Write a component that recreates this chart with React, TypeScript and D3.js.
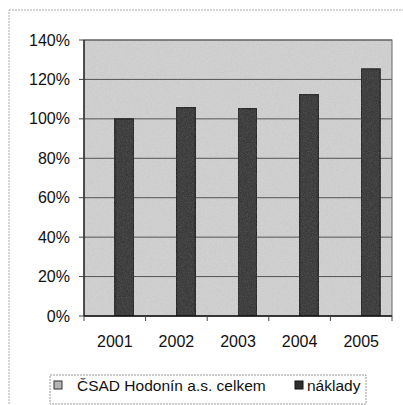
import React from "react";
import * as d3 from "d3";

const categories = ["2001", "2002", "2003", "2004", "2005"];
const seriesNames = ["ČSAD Hodonín a.s. celkem", "náklady"];
const celkem = [0, 0, 0, 0, 0];
const naklady = [100, 105.7, 105.2, 112.4, 125.3];
const yTicks = [0, 20, 40, 60, 80, 100, 120, 140];

const W = 403;
const H = 405;
const plot = { left: 84, right: 392, top: 40, bottom: 316 };
const font = "'Liberation Sans', Arial, sans-serif";

export default function App() {
  const x = d3
    .scaleBand<string>()
    .domain(categories)
    .range([plot.left, plot.right])
    .paddingInner(0)
    .paddingOuter(0);
  const inner = d3
    .scaleBand<string>()
    .domain(seriesNames)
    .range([0, x.bandwidth()])
    .paddingInner(0)
    .paddingOuter(0.63);
  const y = d3.scaleLinear().domain([0, 140]).range([plot.bottom, plot.top]);

  return (
    <svg
      width={W}
      height={H}
      style={{ position: "absolute", left: 0, top: 0, background: "#fff" }}
    >
      <defs>
        <filter id="noise" x="0" y="0" width="100%" height="100%">
          <feTurbulence type="fractalNoise" baseFrequency="1.2" numOctaves="1" seed="3" result="n" />
          <feColorMatrix type="saturate" values="0" in="n" result="g" />
          <feComponentTransfer in="g" result="t">
            <feFuncA type="linear" slope="0.3" />
          </feComponentTransfer>
          <feComposite in="t" in2="SourceGraphic" operator="in" result="c" />
          <feMerge>
            <feMergeNode in="SourceGraphic" />
            <feMergeNode in="c" />
          </feMerge>
        </filter>
        <filter id="noiseDark" x="0" y="0" width="100%" height="100%">
          <feTurbulence type="fractalNoise" baseFrequency="1.2" numOctaves="1" seed="7" result="n" />
          <feColorMatrix type="saturate" values="0" in="n" result="g" />
          <feComponentTransfer in="g" result="t">
            <feFuncA type="linear" slope="0.12" />
          </feComponentTransfer>
          <feComposite in="t" in2="SourceGraphic" operator="in" result="c" />
          <feMerge>
            <feMergeNode in="SourceGraphic" />
            <feMergeNode in="c" />
          </feMerge>
        </filter>
      </defs>
      {/* outer chart border */}
      <rect
        x={9}
        y={10}
        width={400}
        height={400}
        fill="none"
        stroke="#aaa"
        strokeWidth={1}
        strokeDasharray="2,1"
      />
      {/* plot background */}
      <rect
        x={plot.left}
        y={plot.top}
        width={plot.right - plot.left}
        height={plot.bottom - plot.top}
        fill="#d2d2d2"
        filter="url(#noise)"
      />
      {/* gridlines */}
      {yTicks.slice(1).map((t) => (
        <line
          key={"g" + t}
          x1={plot.left}
          x2={plot.right}
          y1={y(t)}
          y2={y(t)}
          stroke="#555"
          strokeWidth={1}
        />
      ))}
      <rect
        x={plot.left}
        y={plot.top}
        width={plot.right - plot.left}
        height={plot.bottom - plot.top}
        fill="none"
        stroke="#666"
        strokeWidth={1}
      />
      {/* bars */}
      {categories.map((c, i) => (
        <g key={c}>
          {celkem[i] > 0 && (
            <rect
              x={x(c)! + inner(seriesNames[0])!}
              y={y(celkem[i])}
              width={inner.bandwidth()}
              height={y(0) - y(celkem[i])}
              fill="#bdbdbd"
              stroke="#222"
            />
          )}
          <rect
            x={x(c)! + inner(seriesNames[1])!}
            y={y(naklady[i])}
            width={inner.bandwidth()}
            height={y(0) - y(naklady[i])}
            fill="#2e2e2e"
            stroke="#0a0a0a"
            strokeWidth={1.5}
            filter="url(#noiseDark)"
          />
        </g>
      ))}
      {/* axes */}
      <line x1={plot.left} x2={plot.left} y1={plot.top} y2={plot.bottom} stroke="#111" strokeWidth={1.2} />
      <line x1={plot.left} x2={plot.right} y1={plot.bottom} y2={plot.bottom} stroke="#111" strokeWidth={1.5} />
      {yTicks.map((t) => (
        <g key={"t" + t}>
          <line x1={plot.left - 5} x2={plot.left} y1={y(t)} y2={y(t)} stroke="#444" />
          <text
            x={70}
            y={y(t)}
            textAnchor="end"
            dominantBaseline="central"
            fontFamily={font}
            fontSize={16}
            fill="#111"
          >
            {t}%
          </text>
        </g>
      ))}
      {categories.map((c, i) => (
        <g key={"x" + c}>
          <line
            x1={x(c)! + x.bandwidth()}
            x2={x(c)! + x.bandwidth()}
            y1={plot.bottom}
            y2={plot.bottom + 5}
            stroke="#444"
          />
          {i === 0 && (
            <line x1={x(c)!} x2={x(c)!} y1={plot.bottom} y2={plot.bottom + 5} stroke="#444" />
          )}
          <text
            x={x(c)! + x.bandwidth() / 2}
            y={341}
            textAnchor="middle"
            dominantBaseline="central"
            fontFamily={font}
            fontSize={16}
            fill="#111"
          >
            {c}
          </text>
        </g>
      ))}
      {/* legend */}
      <rect
        x={50}
        y={375}
        width={316}
        height={29}
        fill="none"
        stroke="#999"
        strokeDasharray="2,1"
      />
      <rect x={54} y={381} width={8} height={8} fill="#b5b5b5" stroke="#333" />
      <text x={77} y={385} dominantBaseline="central" fontFamily={font} fontSize={15.5} fill="#111">
        {seriesNames[0]}
      </text>
      <rect x={295} y={381} width={8} height={8} fill="#2e2e2e" stroke="#111" />
      <text x={307} y={385} dominantBaseline="central" fontFamily={font} fontSize={15.5} fill="#111">
        {seriesNames[1]}
      </text>
    </svg>
  );
}
